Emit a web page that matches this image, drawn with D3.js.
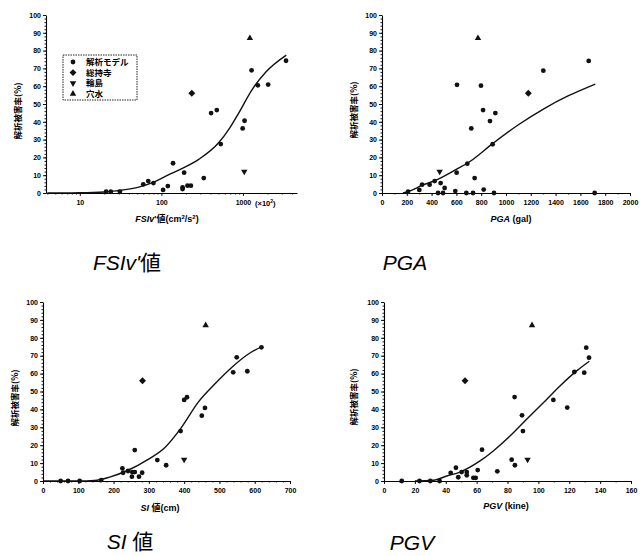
<!DOCTYPE html>
<html>
<head>
<meta charset="utf-8">
<script src="https://cdn.jsdelivr.net/npm/d3@7"></script>
<style>
  body { margin: 0; background: #fff; }
  svg { display: block; }
  .tick text { font-family: "Liberation Sans", Arial, sans-serif; font-size: 7px; font-weight: bold; }
</style>
</head>
<body>
<script>
'use strict';

// damage rate (%) of the three named sites, same in every panel
const sojijiRate = 56
const wajimaRate = 12
const anamizuRate = 87
// their x values, panel order: FSIv', PGA, SI, PGV
const sojijiX = [236, 1180, 282, 52.5]
const wajimaX = [1038, 465, 400, 93]
const anamizuX = [1216, 774, 461, 95.9]

// 解析モデル points [x, rate]
const fsivModel = [[3375,74.3],[1276,68.9],[1524,60.5],[2037,60.9],[407,44.9],[478,46.6],[1047,40.6],[991,36.3],
    [535,27.5],[139,16.7],[190,11.4],[331,8.4],[60,4.9],[69,6.7],[80,5.6],[105,1.7],[120,3.9],[182,2.2],[182,3.2],
    [209,4.1],[230,4.1],[21,0.7],[24,0.7],[31,0.7]]
const pgaModel = [[1667,74.2],[1301,68.7],[605,60.8],[798,60.3],[815,46.6],[914,44.9],[871,40.4],[720,36.3],
    [892,27.4],[688,16.5],[602,11.4],[747,8.4],[425,6.7],[323,4.7],[384,4.7],[473,5.6],[505,2.8],[820,1.9],
    [591,1.1],[301,1.7],[210,0.7],[452,0],[492,0],[680,0],[734,0],[903,0],[1715,0]]
const siModel = [[619,74.7],[549,69.1],[539,60.7],[579,61.3],[400,45.3],[408,46.8],[459,40.8],[450,36.5],
    [390,27.9],[260,17.3],[324,11.7],[349,8.8],[225,7.1],[227,4.6],[253,5],[260,5],[252,2.4],[272,2.4],
    [281,4.6],[241,5.6],[50,0],[71,0],[104,0],[165,0.5]]
const pgvModel = [[131,74.5],[132.8,68.9],[123.3,60.9],[129.7,60.5],[84.6,46.9],[109.7,45.3],[118.7,41],[89.4,36.7],
    [90,27.9],[63.5,17.5],[82.7,11.9],[84.8,8.8],[73.4,5.4],[60.7,6.1],[46.6,7.4],[43.2,4.5],[50.3,5],[53.6,5],
    [48.1,2.1],[53.6,3.2],[57.9,1.8],[59.4,1.8],[11.5,0],[23,0],[30,0],[36,0]]

// fitted curves
const fsivCurve = [[4,0],[10,0.1],[20,0.6],[28,1.2],[50,3],[78,5.8],[120,10],[166,13],[290,19],[510,28.5],
    [700,37],[890,45],[1290,58],[1910,68],[3400,77.5]]
const pgaCurve = [[169,0],[237,1.5],[317,4.1],[425,6.9],[599,13.3],[694,17],[895,27.9],[1097,38.2],[1312,47.6],
    [1500,54.5],[1720,61.2]]
const siCurve = [[0,0],[100,0],[146,0.3],[189,2.2],[241,6],[298,12.1],[345,18.6],[392,29.8],[439,43.8],[486,54],
    [534,63.3],[581,70.8],[619,75]]
const pgvCurve = [[20,0],[32,0.4],[40.6,2.8],[49.2,5],[62.2,11.2],[70.8,16.8],[81.6,25.1],[92.4,34.5],[103.2,43.7],
    [114,53.1],[124.8,61.5],[133,66.9]]

const yTicks = [0, 10, 20, 30, 40, 50, 60, 70, 80, 90, 100]
const legendNames = ["解析モデル", "総持寺", "輪島", "穴水"]

const svg = d3.select("body").append("svg")
    .attr("width", 642)
    .attr("height", 556)

const cjk = '"Noto Sans CJK JP", sans-serif'
const latin = '"Liberation Sans", Arial, sans-serif'

function marker(g, type, x, y) {
    if (type == "circle") {
        g.append("circle").attr("cx", x).attr("cy", y).attr("r", 2.4).attr("fill", "#111")
    } else if (type == "diamond") {
        g.append("path")
            .attr("d", d3.symbol().type(d3.symbolSquare).size(24)())
            .attr("transform", "translate(" + x + "," + y + ") rotate(45)")
            .attr("fill", "#111")
    } else {
        g.append("path")
            .attr("d", d3.symbol().type(d3.symbolTriangle).size(18)())
            .attr("transform", "translate(" + x + "," + y + ")" + (type == "down" ? " rotate(180)" : ""))
            .attr("fill", "#111")
    }
}

function drawPanel(p, i) {
    let x = p.log ? d3.scaleLog() : d3.scaleLinear()
    x.domain(p.domain).range([p.left, p.right])
    let y = d3.scaleLinear().domain([0, 100]).range([p.bottom, p.top])
    let g = svg.append("g")

    // y axis
    g.append("g")
        .attr("transform", "translate(" + p.left + ",0)")
        .call(d3.axisLeft(y).tickValues(d3.range(0, 101, 2)).tickSize(1.5).tickFormat(""))
        .call(a => a.select(".domain").remove())
    g.append("g")
        .attr("transform", "translate(" + p.left + ",0)")
        .call(d3.axisLeft(y).tickValues(yTicks).tickSize(3).tickPadding(2).tickSizeOuter(0))
        .call(a => a.select(".domain").attr("stroke-width", 1.1))

    // x axis
    g.append("g")
        .attr("transform", "translate(0," + p.bottom + ")")
        .call(d3.axisBottom(x).tickValues(p.minor).tickSize(1.5).tickFormat(""))
        .call(a => a.select(".domain").remove())
    g.append("g")
        .attr("transform", "translate(0," + p.bottom + ")")
        .call(d3.axisBottom(x).tickValues(p.major).tickSize(3).tickPadding(4).tickSizeOuter(0)
            .tickFormat(d3.format("d")))
        .call(a => a.select(".domain").attr("stroke-width", 1.1))
    g.selectAll(".tick line").attr("stroke-width", 0.9)

    // y label
    g.append("text")
        .attr("transform", "translate(" + p.ylabX + "," + p.ylabY + ") rotate(-90)")
        .attr("text-anchor", "middle")
        .attr("font-family", cjk)
        .attr("font-size", "8.5px")
        .attr("font-weight", "bold")
        .text("解析被害率(%)")

    // x label
    let xl = g.append("text")
        .attr("x", p.xlabX).attr("y", p.xlabY)
        .attr("text-anchor", "middle")
        .attr("font-family", latin)
        .attr("font-size", "9px")
        .attr("font-weight", "bold")
    p.xlabel.forEach(function (part) {
        let t = xl.append("tspan").text(part[0])
        if (part[1] == "i") t.attr("font-style", "italic")
        if (part[1] == "j") t.attr("font-family", cjk)
        if (part[1] == "sup") t.attr("font-size", "6px").attr("dy", -3)
        if (part[1] == "base") t.attr("dy", 3)
    })

    // curve
    g.append("path")
        .datum(p.curve)
        .attr("d", d3.line().x(d => x(d[0])).y(d => y(d[1])).curve(d3.curveMonotoneX))
        .attr("fill", "none")
        .attr("stroke", "#111")
        .attr("stroke-width", 1.4)

    // points
    p.model.forEach(d => marker(g, "circle", x(d[0]), y(d[1])))
    marker(g, "diamond", x(sojijiX[i]), y(sojijiRate))
    marker(g, "down", x(wajimaX[i]), y(wajimaRate))
    marker(g, "up", x(anamizuX[i]), y(anamizuRate))

    // panel title
    let tt = svg.append("text")
        .attr("x", p.titleX).attr("y", p.titleY)
        .attr("text-anchor", "middle")
        .attr("font-family", latin)
        .attr("font-size", "21px")
    p.title.forEach(function (part) {
        let t = tt.append("tspan").text(part[0])
        if (part[1] == "i") t.attr("font-style", "italic")
        if (part[1] == "j") t.attr("font-family", cjk)
    })
    return g
}

let logMinor = []
;[1, 10, 100, 1000].forEach(dec => [2,3,4,5,6,7,8,9].forEach(k => { if (k * dec >= 4 && k * dec <= 4500) logMinor.push(k * dec) }))

const panels = [
    { log: true, domain: [3.85, 4600], left: 46, right: 297, top: 15, bottom: 193,
      major: [10, 100, 1000], minor: logMinor, model: fsivModel, curve: fsivCurve,
      ylabX: 21, ylabY: 111, xlabX: 167, xlabY: 222,
      xlabel: [["FSIv", "i"], ["'"], ["値", "j"], ["(cm"], ["2", "sup"], ["/s", "base"], ["2", "sup"], [")", "base"]],
      title: [["FSIv'", "i"], ["値", "j"]], titleX: 127, titleY: 270 },
    { log: false, domain: [0, 2000], left: 382, right: 630, top: 15, bottom: 193,
      major: d3.range(0, 2001, 200), minor: d3.range(0, 2001, 100), model: pgaModel, curve: pgaCurve,
      ylabX: 357, ylabY: 110, xlabX: 511, xlabY: 222,
      xlabel: [["PGA", "i"], [" (gal)"]],
      title: [["PGA", "i"]], titleX: 405, titleY: 270 },
    { log: false, domain: [0, 700], left: 43, right: 290, top: 302, bottom: 481,
      major: d3.range(0, 701, 100), minor: d3.range(0, 701, 20), model: siModel, curve: siCurve,
      ylabX: 18, ylabY: 398, xlabX: 160, xlabY: 511,
      xlabel: [["SI", "i"], [" "], ["値", "j"], ["(cm)"]],
      title: [["SI", "i"], [" "], ["値", "j"]], titleX: 130, titleY: 549 },
    { log: false, domain: [0, 160], left: 384, right: 631, top: 302, bottom: 481,
      major: d3.range(0, 161, 20), minor: d3.range(0, 161, 10), model: pgvModel, curve: pgvCurve,
      ylabX: 357, ylabY: 397, xlabX: 506, xlabY: 509,
      xlabel: [["PGV", "i"], [" (kine)"]],
      title: [["PGV", "i"]], titleX: 412, titleY: 550 }
]

panels.forEach(drawPanel)

// (x10^2) unit note on the log axis
let unit = svg.append("text")
    .attr("x", 255).attr("y", 206)
    .attr("font-family", latin)
    .attr("font-size", "7.5px")
    .attr("font-weight", "bold")
unit.append("tspan").text("(×10")
unit.append("tspan").text("2").attr("font-size", "5px").attr("dy", -3)
unit.append("tspan").text(")").attr("dy", 3)

// legend
let legend = svg.append("g")
legend.append("rect")
    .attr("x", 63).attr("y", 55).attr("width", 74).attr("height", 45)
    .attr("fill", "none").attr("stroke", "#222").attr("stroke-width", 1)
    .attr("stroke-dasharray", "1.5,1")
const legendTypes = ["circle", "diamond", "down", "up"]
legendNames.forEach(function (name, i) {
    let ly = 62 + i * 10.6
    marker(legend, legendTypes[i], 73, ly)
    legend.append("text")
        .attr("x", 86).attr("y", ly + 3)
        .attr("font-family", cjk)
        .attr("font-size", "8.5px")
        .attr("font-weight", "bold")
        .text(name)
})
</script>
</body>
</html>
